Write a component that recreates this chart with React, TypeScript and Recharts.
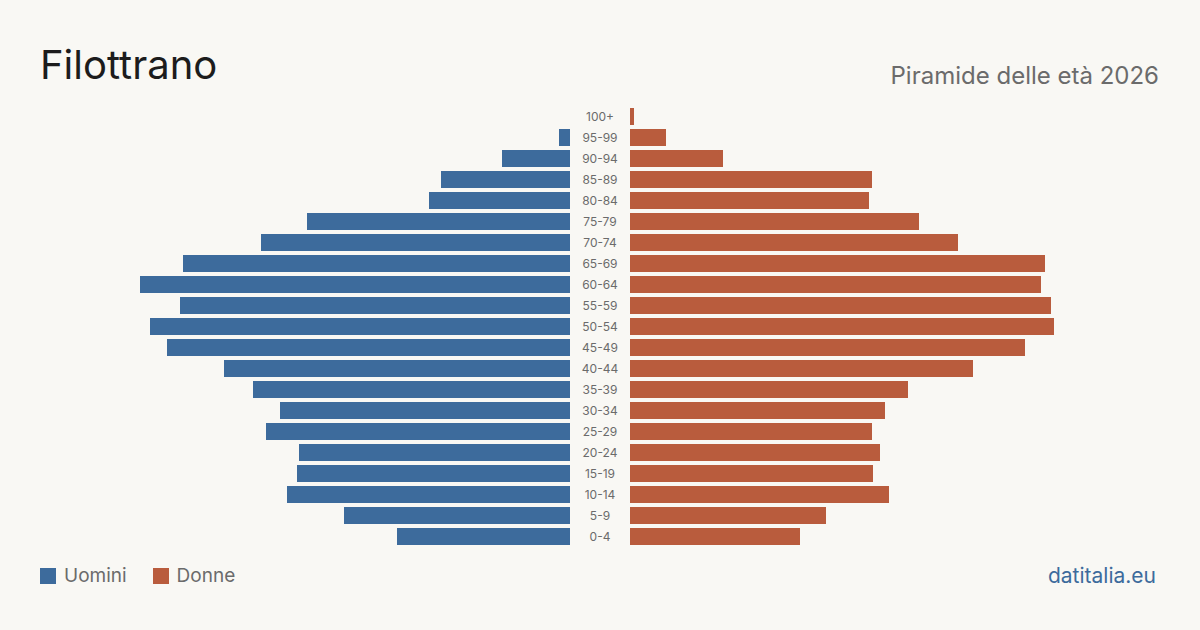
import { BarChart, Bar, XAxis, YAxis } from "recharts";

const AGE_GROUPS = [
  "100+", "95-99", "90-94", "85-89", "80-84", "75-79", "70-74", "65-69", "60-64", "55-59",
  "50-54", "45-49", "40-44", "35-39", "30-34", "25-29", "20-24", "15-19", "10-14", "5-9", "0-4",
];
const MEN = [0, 11, 68, 129, 141, 263, 309, 387, 430, 390, 420, 403, 346, 317, 290, 304, 271, 273, 283, 226, 173];
const WOMEN = [4, 36, 93, 242, 239, 289, 328, 415, 411, 421, 424, 395, 343, 278, 255, 242, 250, 243, 259, 196, 170];

const MAX = 570;
const BLUE = "#3d6b9c";
const ORANGE = "#b95c3d";
const BG = "#f9f8f4";
const FONT = "Inter, 'Noto Sans', sans-serif";

const data = AGE_GROUPS.map((age, i) => ({ age, men: MEN[i], women: WOMEN[i] }));

function AgeTick({ y, payload }: any) {
  return (
    <text x={30} y={y} dy={4} textAnchor="middle" fontSize={12} fill="#6b6b6b" fontFamily={FONT}>
      {payload.value}
    </text>
  );
}

export default function App() {
  return (
    <div style={{ position: "absolute", left: 0, top: 0, width: 1200, height: 630, background: BG, fontFamily: FONT, overflow: "hidden" }}>
      <div style={{ position: "absolute", left: 40, top: 45, fontSize: 40, color: "#1c1c1c", lineHeight: 1 }}>Filottrano</div>
      <div style={{ position: "absolute", right: 41, top: 64, fontSize: 24, color: "#6b6b6b", lineHeight: 1 }}>Piramide delle età 2026</div>

      <div style={{ position: "absolute", left: 0, top: 106 }}>
        <BarChart width={570} height={441} data={data} layout="vertical" margin={{ top: 0, right: 0, bottom: 0, left: 0 }} barCategoryGap={2}>
          <XAxis type="number" domain={[0, MAX]} reversed hide />
          <YAxis type="category" dataKey="age" hide />
          <Bar dataKey="men" fill={BLUE} isAnimationActive={false} />
        </BarChart>
      </div>
      <div style={{ position: "absolute", left: 570, top: 106 }}>
        <BarChart width={630} height={441} data={data} layout="vertical" margin={{ top: 0, right: 0, bottom: 0, left: 0 }} barCategoryGap={2}>
          <XAxis type="number" domain={[0, MAX]} hide />
          <YAxis type="category" dataKey="age" width={60} axisLine={false} tickLine={false} tick={<AgeTick />} interval={0} />
          <Bar dataKey="women" fill={ORANGE} isAnimationActive={false} />
        </BarChart>
      </div>

      <div style={{ position: "absolute", left: 40, top: 566, display: "flex", alignItems: "center", fontSize: 19, color: "#6b6b6b", lineHeight: 1 }}>
        <span style={{ width: 16, height: 16, background: BLUE, display: "inline-block", marginRight: 8 }} />
        <span style={{ marginRight: 26 }}>Uomini</span>
        <span style={{ width: 16, height: 16, background: ORANGE, display: "inline-block", marginRight: 8 }} />
        <span>Donne</span>
      </div>
      <div style={{ position: "absolute", right: 44, top: 565, fontSize: 21, color: BLUE, lineHeight: 1 }}>datitalia.eu</div>
    </div>
  );
}
